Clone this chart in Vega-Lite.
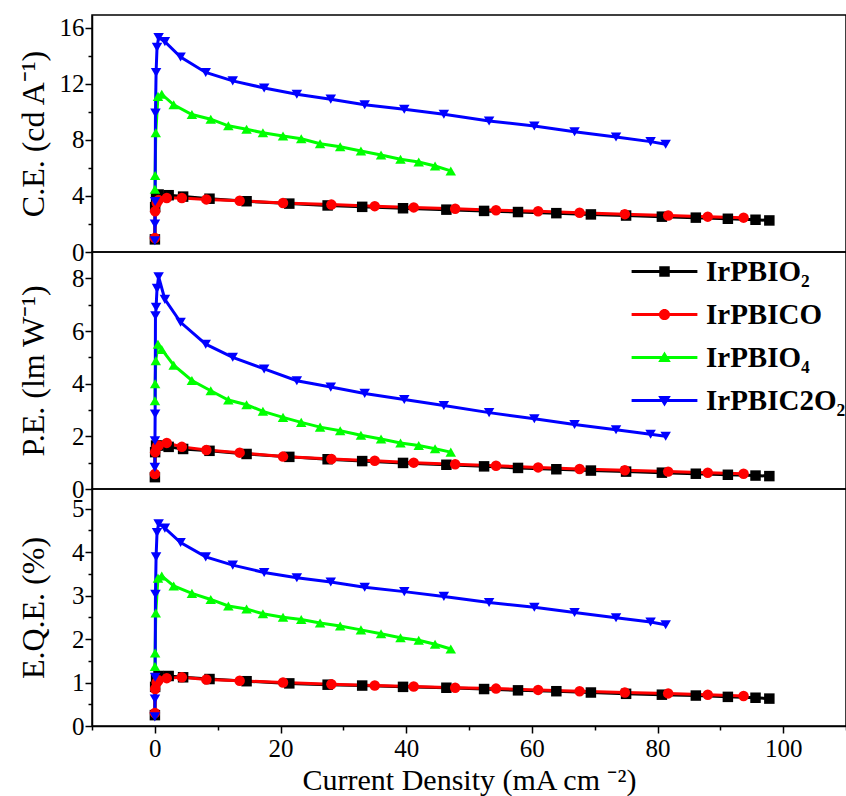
{
  "$schema": "https://vega.github.io/schema/vega-lite/v6.json",
  "background": "white",
  "padding": {"left": 16, "top": 14, "right": 0, "bottom": 0},
  "spacing": 0,
  "bounds": "flush",
  "config": {
    "font": "Liberation Serif",
    "view": {"stroke": "black", "strokeWidth": 1.5},
    "axis": {
      "grid": false,
      "domainColor": "black",
      "domainWidth": 1.5,
      "tickColor": "black",
      "tickWidth": 1.5,
      "labelFont": "Liberation Serif",
      "labelFontSize": 25,
      "labelColor": "black",
      "labelPadding": 1,
      "titleFont": "Liberation Serif",
      "titleFontSize": 32,
      "titleFontWeight": "normal",
      "titleColor": "black"
    }
  },
  "resolve": {"scale": {"color": "independent", "shape": "independent"}},
  "datasets": {
    "d": [
      {"s": "IrPBIO₂", "J": 0.01, "CE": 0.9, "PE": 0.45, "EQE": 0.25},
      {"s": "IrPBIO₂", "J": 0.05, "CE": 3.2, "PE": 1.4, "EQE": 0.9},
      {"s": "IrPBIO₂", "J": 0.2, "CE": 3.9, "PE": 1.65, "EQE": 1.1},
      {"s": "IrPBIO₂", "J": 0.6, "CE": 4.1, "PE": 1.65, "EQE": 1.15},
      {"s": "IrPBIO₂", "J": 2.2, "CE": 4.05, "PE": 1.6, "EQE": 1.15},
      {"s": "IrPBIO₂", "J": 4.5, "CE": 3.95, "PE": 1.52, "EQE": 1.12},
      {"s": "IrPBIO₂", "J": 8.7, "CE": 3.8, "PE": 1.45, "EQE": 1.08},
      {"s": "IrPBIO₂", "J": 14.6, "CE": 3.62, "PE": 1.33, "EQE": 1.03},
      {"s": "IrPBIO₂", "J": 21.4, "CE": 3.45, "PE": 1.22, "EQE": 0.98},
      {"s": "IrPBIO₂", "J": 27.5, "CE": 3.32, "PE": 1.13, "EQE": 0.95},
      {"s": "IrPBIO₂", "J": 33, "CE": 3.22, "PE": 1.06, "EQE": 0.93},
      {"s": "IrPBIO₂", "J": 39.5, "CE": 3.12, "PE": 0.99, "EQE": 0.9},
      {"s": "IrPBIO₂", "J": 46.4, "CE": 3.02, "PE": 0.92, "EQE": 0.88},
      {"s": "IrPBIO₂", "J": 52.4, "CE": 2.93, "PE": 0.86, "EQE": 0.85},
      {"s": "IrPBIO₂", "J": 57.8, "CE": 2.85, "PE": 0.8, "EQE": 0.82},
      {"s": "IrPBIO₂", "J": 63.9, "CE": 2.77, "PE": 0.75, "EQE": 0.8},
      {"s": "IrPBIO₂", "J": 69.4, "CE": 2.68, "PE": 0.7, "EQE": 0.77},
      {"s": "IrPBIO₂", "J": 75, "CE": 2.6, "PE": 0.66, "EQE": 0.74},
      {"s": "IrPBIO₂", "J": 80.7, "CE": 2.52, "PE": 0.62, "EQE": 0.72},
      {"s": "IrPBIO₂", "J": 86.1, "CE": 2.45, "PE": 0.58, "EQE": 0.7},
      {"s": "IrPBIO₂", "J": 91.2, "CE": 2.37, "PE": 0.54, "EQE": 0.67},
      {"s": "IrPBIO₂", "J": 95.6, "CE": 2.3, "PE": 0.51, "EQE": 0.65},
      {"s": "IrPBIO₂", "J": 97.8, "CE": 2.25, "PE": 0.49, "EQE": 0.63},
      {"s": "IrPBICO", "J": 0.01, "CE": 1.0, "PE": 0.57, "EQE": 0.3},
      {"s": "IrPBICO", "J": 0.05, "CE": 2.9, "PE": 1.4, "EQE": 0.85},
      {"s": "IrPBICO", "J": 0.3, "CE": 3.5, "PE": 1.6, "EQE": 1.0},
      {"s": "IrPBICO", "J": 0.6, "CE": 3.7, "PE": 1.65, "EQE": 1.05},
      {"s": "IrPBICO", "J": 1.9, "CE": 3.85, "PE": 1.75, "EQE": 1.1},
      {"s": "IrPBICO", "J": 4.3, "CE": 3.85, "PE": 1.6, "EQE": 1.12},
      {"s": "IrPBICO", "J": 8.2, "CE": 3.75, "PE": 1.48, "EQE": 1.07},
      {"s": "IrPBICO", "J": 13.5, "CE": 3.65, "PE": 1.38, "EQE": 1.04},
      {"s": "IrPBICO", "J": 20.4, "CE": 3.5, "PE": 1.23, "EQE": 1.0},
      {"s": "IrPBICO", "J": 28.1, "CE": 3.38, "PE": 1.14, "EQE": 0.96},
      {"s": "IrPBICO", "J": 35, "CE": 3.27, "PE": 1.07, "EQE": 0.93},
      {"s": "IrPBICO", "J": 41.2, "CE": 3.18, "PE": 1.0, "EQE": 0.91},
      {"s": "IrPBICO", "J": 47.8, "CE": 3.08, "PE": 0.94, "EQE": 0.88},
      {"s": "IrPBICO", "J": 54.3, "CE": 2.98, "PE": 0.88, "EQE": 0.86},
      {"s": "IrPBICO", "J": 61, "CE": 2.9, "PE": 0.82, "EQE": 0.83},
      {"s": "IrPBICO", "J": 67.6, "CE": 2.8, "PE": 0.76, "EQE": 0.8},
      {"s": "IrPBICO", "J": 74.8, "CE": 2.7, "PE": 0.71, "EQE": 0.77},
      {"s": "IrPBICO", "J": 81.7, "CE": 2.6, "PE": 0.66, "EQE": 0.75},
      {"s": "IrPBICO", "J": 88, "CE": 2.52, "PE": 0.62, "EQE": 0.72},
      {"s": "IrPBICO", "J": 93.7, "CE": 2.45, "PE": 0.58, "EQE": 0.69},
      {"s": "IrPBIO₄", "J": 0.02, "CE": 4.47, "PE": 3.35, "EQE": 1.37},
      {"s": "IrPBIO₄", "J": 0.05, "CE": 5.45, "PE": 4.0, "EQE": 1.68},
      {"s": "IrPBIO₄", "J": 0.15, "CE": 8.5, "PE": 4.87, "EQE": 2.6},
      {"s": "IrPBIO₄", "J": 0.5, "CE": 11.1, "PE": 5.5, "EQE": 3.4},
      {"s": "IrPBIO₄", "J": 1.1, "CE": 11.25, "PE": 5.3, "EQE": 3.45},
      {"s": "IrPBIO₄", "J": 3, "CE": 10.5, "PE": 4.7, "EQE": 3.22},
      {"s": "IrPBIO₄", "J": 5.9, "CE": 9.8, "PE": 4.12, "EQE": 3.05},
      {"s": "IrPBIO₄", "J": 8.9, "CE": 9.47, "PE": 3.73, "EQE": 2.91},
      {"s": "IrPBIO₄", "J": 11.7, "CE": 9.0, "PE": 3.38, "EQE": 2.76},
      {"s": "IrPBIO₄", "J": 14.6, "CE": 8.75, "PE": 3.2, "EQE": 2.69},
      {"s": "IrPBIO₄", "J": 17.2, "CE": 8.5, "PE": 2.95, "EQE": 2.58},
      {"s": "IrPBIO₄", "J": 20.4, "CE": 8.27, "PE": 2.72, "EQE": 2.5},
      {"s": "IrPBIO₄", "J": 23.3, "CE": 8.08, "PE": 2.53, "EQE": 2.45},
      {"s": "IrPBIO₄", "J": 26.3, "CE": 7.72, "PE": 2.35, "EQE": 2.37},
      {"s": "IrPBIO₄", "J": 29.5, "CE": 7.51, "PE": 2.21, "EQE": 2.3},
      {"s": "IrPBIO₄", "J": 32.8, "CE": 7.2, "PE": 2.04, "EQE": 2.21},
      {"s": "IrPBIO₄", "J": 36.0, "CE": 6.92, "PE": 1.9, "EQE": 2.12},
      {"s": "IrPBIO₄", "J": 39.1, "CE": 6.61, "PE": 1.75, "EQE": 2.03},
      {"s": "IrPBIO₄", "J": 42.0, "CE": 6.42, "PE": 1.65, "EQE": 1.97},
      {"s": "IrPBIO₄", "J": 44.6, "CE": 6.13, "PE": 1.53, "EQE": 1.88},
      {"s": "IrPBIO₄", "J": 47.1, "CE": 5.78, "PE": 1.4, "EQE": 1.77},
      {"s": "IrPBIC2O₂", "J": 0.005, "CE": 0.8, "PE": 0.82, "EQE": 0.21},
      {"s": "IrPBIC2O₂", "J": 0.02, "CE": 2.0, "PE": 1.83, "EQE": 0.62},
      {"s": "IrPBIC2O₂", "J": 0.05, "CE": 3.6, "PE": 2.85, "EQE": 1.12},
      {"s": "IrPBIC2O₂", "J": 0.1, "CE": 9.9, "PE": 6.58, "EQE": 3.03},
      {"s": "IrPBIC2O₂", "J": 0.2, "CE": 12.8, "PE": 6.9, "EQE": 3.89},
      {"s": "IrPBIC2O₂", "J": 0.35, "CE": 14.6, "PE": 7.62, "EQE": 4.45},
      {"s": "IrPBIC2O₂", "J": 0.6, "CE": 15.3, "PE": 8.06, "EQE": 4.65},
      {"s": "IrPBIC2O₂", "J": 1.6, "CE": 15.0, "PE": 7.2, "EQE": 4.55},
      {"s": "IrPBIC2O₂", "J": 4.1, "CE": 13.9, "PE": 6.33, "EQE": 4.22},
      {"s": "IrPBIC2O₂", "J": 8.1, "CE": 12.8, "PE": 5.5, "EQE": 3.89},
      {"s": "IrPBIC2O₂", "J": 12.4, "CE": 12.2, "PE": 5.0, "EQE": 3.7},
      {"s": "IrPBIC2O₂", "J": 17.4, "CE": 11.7, "PE": 4.56, "EQE": 3.53},
      {"s": "IrPBIC2O₂", "J": 22.6, "CE": 11.25, "PE": 4.11, "EQE": 3.41},
      {"s": "IrPBIC2O₂", "J": 28.0, "CE": 10.9, "PE": 3.87, "EQE": 3.31},
      {"s": "IrPBIC2O₂", "J": 33.4, "CE": 10.5, "PE": 3.63, "EQE": 3.19},
      {"s": "IrPBIC2O₂", "J": 39.7, "CE": 10.18, "PE": 3.4, "EQE": 3.09},
      {"s": "IrPBIC2O₂", "J": 46.0, "CE": 9.82, "PE": 3.17, "EQE": 2.98},
      {"s": "IrPBIC2O₂", "J": 53.2, "CE": 9.34, "PE": 2.9, "EQE": 2.84},
      {"s": "IrPBIC2O₂", "J": 60.4, "CE": 8.99, "PE": 2.67, "EQE": 2.73},
      {"s": "IrPBIC2O₂", "J": 66.8, "CE": 8.58, "PE": 2.45, "EQE": 2.61},
      {"s": "IrPBIC2O₂", "J": 73.4, "CE": 8.2, "PE": 2.25, "EQE": 2.49},
      {"s": "IrPBIC2O₂", "J": 78.9, "CE": 7.87, "PE": 2.08, "EQE": 2.39},
      {"s": "IrPBIC2O₂", "J": 81.3, "CE": 7.68, "PE": 2.0, "EQE": 2.33}
    ]
  },
  "vconcat": [
    {
      "width": 754,
      "height": 237,
      "data": {"name": "d"},
      "encoding": {
        "x": {"field": "J", "type": "quantitative", "scale": {"domain": [-10, 110], "nice": false, "zero": false}, "axis": null},
        "y": {
          "field": "CE", "type": "quantitative",
          "scale": {"domain": [0, 16.9], "nice": false},
          "axis": {
            "title": "C.E. (cd A⁻¹)",
            "values": [0, 2, 4, 6, 8, 10, 12, 14, 16],
            "labelExpr": "datum.value % 4 === 0 ? datum.label : ''",
            "tickSize": {"condition": {"test": "datum.value % 4 === 0", "value": 7}, "value": 4},
            "titleX": -42
          }
        },
        "color": {"field": "s", "type": "nominal", "legend": null,
          "scale": {"domain": ["IrPBIO₂", "IrPBICO", "IrPBIO₄", "IrPBIC2O₂"], "range": ["#000000", "#ff0000", "#00ff00", "#0000ff"]}}
      },
      "layer": [
        {"mark": {"type": "line", "strokeWidth": 3}},
        {"mark": {"type": "point", "filled": true, "size": 110, "opacity": 1},
         "encoding": {"shape": {"field": "s", "type": "nominal", "legend": null,
           "scale": {"domain": ["IrPBIO₂", "IrPBICO", "IrPBIO₄", "IrPBIC2O₂"], "range": ["square", "circle", "triangle-up", "triangle-down"]}}}}
      ]
    },
    {
      "width": 754,
      "height": 237,
      "data": {"name": "d"},
      "encoding": {
        "x": {"field": "J", "type": "quantitative", "scale": {"domain": [-10, 110], "nice": false, "zero": false}, "axis": null},
        "y": {
          "field": "PE", "type": "quantitative",
          "scale": {"domain": [0, 9], "nice": false},
          "axis": {
            "title": "P.E. (lm W⁻¹)",
            "values": [0, 1, 2, 3, 4, 5, 6, 7, 8],
            "labelExpr": "datum.value % 2 === 0 ? datum.label : ''",
            "tickSize": {"condition": {"test": "datum.value % 2 === 0", "value": 7}, "value": 4},
            "titleX": -42
          }
        }
      },
      "resolve": {"scale": {"color": "independent", "shape": "independent"}},
      "layer": [
        {"mark": {"type": "line", "strokeWidth": 3},
         "encoding": {"color": {"field": "s", "type": "nominal", "legend": null,
          "scale": {"domain": ["IrPBIO₂", "IrPBICO", "IrPBIO₄", "IrPBIC2O₂"], "range": ["#000000", "#ff0000", "#00ff00", "#0000ff"]}}}},
        {"mark": {"type": "point", "filled": true, "size": 110, "opacity": 1},
         "encoding": {
           "color": {"field": "s", "type": "nominal", "legend": null,
             "scale": {"domain": ["IrPBIO₂", "IrPBICO", "IrPBIO₄", "IrPBIC2O₂"], "range": ["#000000", "#ff0000", "#00ff00", "#0000ff"]}},
           "shape": {"field": "s", "type": "nominal", "legend": null,
             "scale": {"domain": ["IrPBIO₂", "IrPBICO", "IrPBIO₄", "IrPBIC2O₂"], "range": ["square", "circle", "triangle-up", "triangle-down"]}}}},
        {"transform": [{"filter": "false"}],
         "mark": {"type": "point", "filled": true, "opacity": 1},
         "encoding": {
           "color": {"field": "s", "type": "nominal",
             "scale": {"domain": ["IrPBIO₂", "IrPBICO", "IrPBIO₄", "IrPBIC2O₂"], "range": ["#000000", "#ff0000", "#00ff00", "#0000ff"]},
             "legend": {"title": null, "orient": "none", "legendX": 532, "legendY": 5, "symbolSize": 196, "symbolStrokeWidth": 0, "labelFont": "Liberation Serif", "labelFontSize": 29, "labelFontWeight": "bold", "labelColor": "black", "labelOffset": 27, "labelLimit": 400, "rowPadding": 13, "padding": 0, "symbolOffset": 26}},
           "shape": {"field": "s", "type": "nominal",
             "scale": {"domain": ["IrPBIO₂", "IrPBICO", "IrPBIO₄", "IrPBIC2O₂"],
               "range": [
                 "M-4.7,-0.2H4.7V0.2H-4.7ZM-0.75,-0.75H0.75V0.75H-0.75Z",
                 "M-4.7,-0.2H4.7V0.2H-4.7ZM-0.8,0A0.8,0.8,0,1,1,0.8,0A0.8,0.8,0,1,1,-0.8,0Z",
                 "M-4.7,-0.2H4.7V0.2H-4.7ZM0,-0.85L0.9,0.65H-0.9Z",
                 "M-4.7,-0.2H4.7V0.2H-4.7ZM-0.9,-0.65H0.9L0,0.85Z"
               ]},
             "legend": {"title": null, "orient": "none", "legendX": 532, "legendY": 5, "symbolSize": 196, "symbolStrokeWidth": 0, "labelFont": "Liberation Serif", "labelFontSize": 29, "labelFontWeight": "bold", "labelColor": "black", "labelOffset": 27, "labelLimit": 400, "rowPadding": 13, "padding": 0, "symbolOffset": 26}}
         }}
      ]
    },
    {
      "width": 754,
      "height": 237,
      "data": {"name": "d"},
      "encoding": {
        "x": {"field": "J", "type": "quantitative", "scale": {"domain": [-10, 110], "nice": false, "zero": false},
          "axis": {
            "title": "Current Density (mA cm ⁻²)",
            "titleFontSize": 30,
            "titleBaseline": "alphabetic",
            "titleY": 63,
            "values": [-10, 0, 10, 20, 30, 40, 50, 60, 70, 80, 90, 100, 110],
            "labelExpr": "datum.value % 20 === 0 ? datum.label : ''",
            "tickSize": {"condition": {"test": "datum.value % 20 === 0", "value": 7}, "value": 4},
            "labelPadding": 3
          }},
        "y": {
          "field": "EQE", "type": "quantitative",
          "scale": {"domain": [0, 5.45], "nice": false},
          "axis": {
            "title": "E.Q.E. (%)",
            "values": [0, 0.5, 1, 1.5, 2, 2.5, 3, 3.5, 4, 4.5, 5],
            "labelExpr": "datum.value % 1 === 0 ? format(datum.value, 'd') : ''",
            "tickSize": {"condition": {"test": "datum.value % 1 === 0", "value": 7}, "value": 4},
            "titleX": -42
          }
        },
        "color": {"field": "s", "type": "nominal", "legend": null,
          "scale": {"domain": ["IrPBIO₂", "IrPBICO", "IrPBIO₄", "IrPBIC2O₂"], "range": ["#000000", "#ff0000", "#00ff00", "#0000ff"]}}
      },
      "layer": [
        {"mark": {"type": "line", "strokeWidth": 3}},
        {"mark": {"type": "point", "filled": true, "size": 110, "opacity": 1},
         "encoding": {"shape": {"field": "s", "type": "nominal", "legend": null,
           "scale": {"domain": ["IrPBIO₂", "IrPBICO", "IrPBIO₄", "IrPBIC2O₂"], "range": ["square", "circle", "triangle-up", "triangle-down"]}}}}
      ]
    }
  ]
}
